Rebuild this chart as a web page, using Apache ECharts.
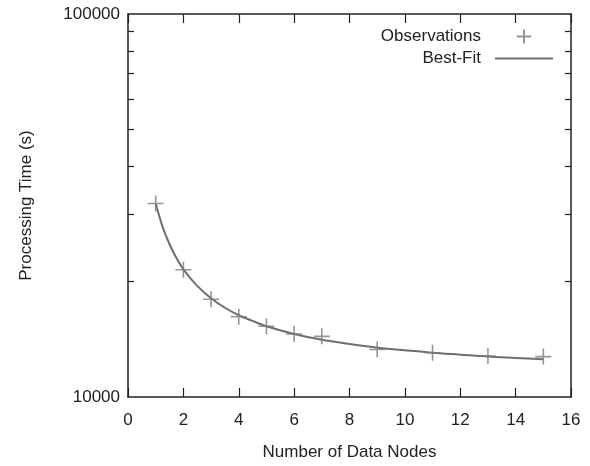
<!DOCTYPE html>
<html>
<head>
<meta charset="utf-8">
<script src="https://cdn.jsdelivr.net/npm/echarts@6/dist/echarts.min.js"></script>
<style>
  html, body { margin: 0; padding: 0; background: #fff; }
  #chart { width: 590px; height: 466px; }
</style>
</head>
<body>
<div id="chart"></div>
<script>
  // observed processing times
  var obsNodes = [1, 2, 3, 4, 5, 6, 7, 9, 11, 13, 15];
  var obsTime = [32000, 21500, 18000, 16200, 15300, 14600, 14400, 13300, 13050, 12800, 12750];

  // best-fit curve
  var fitNodes = [1, 1.25, 1.5, 1.75, 2, 2.5, 3, 3.5, 4, 4.5, 5, 6, 7, 8, 9, 10, 11, 12, 13, 14, 15];
  var fitTime = [32000, 27800, 25050, 23050, 21550, 19500, 18100, 17100, 16350, 15800, 15300, 14600,
                 14100, 13750, 13450, 13250, 13050, 12900, 12750, 12650, 12550];

  var yMinorTicks = [20000, 30000, 40000, 50000, 60000, 70000, 80000, 90000];
  var yLabels = [10000, 100000];

  var font = 'Liberation Sans';
  var ink = '#222';
  var grey = '#6e6e6e';
  var plusPath = 'path://M0,7L14,7M7,0L7,14';
  var barPath = 'path://M0,0H58V2H0Z';

  var chart = echarts.init(document.getElementById('chart'));

  function pairs(xs, ys) {
    var out = [];
    for (var i = 0; i < xs.length; i++) out.push([xs[i], ys[i]]);
    return out;
  }

  var frameLine = { show: true, onZero: false, lineStyle: { color: ink, width: 1.5 } };

  var yBase = {
    type: 'log',
    logBase: 10,
    min: 10000,
    max: 100000,
    splitLine: { show: false },
    axisLine: frameLine,
    axisTick: { show: true, inside: true, length: 6, customValues: yMinorTicks, lineStyle: { color: ink, width: 1.2 } },
    minorTick: { show: false }
  };

  var xBase = {
    type: 'value',
    min: 0,
    max: 16,
    interval: 2,
    splitLine: { show: false },
    axisLine: frameLine,
    axisTick: { show: true, inside: true, length: 9, lineStyle: { color: ink, width: 1.2 } }
  };

  chart.setOption({
    animation: false,
    textStyle: { fontFamily: font },
    grid: { left: 128, right: 19, top: 14, bottom: 69 },
    legend: {
      orient: 'vertical',
      align: 'right',
      right: 32,
      top: 23,
      itemWidth: 58,
      itemHeight: 14,
      itemGap: 5,
      textStyle: { fontFamily: font, fontSize: 17, color: ink, padding: [0, 9, 0, 0] },
      data: [
        { name: 'Observations', icon: plusPath },
        { name: 'Best-Fit', icon: barPath }
      ]
    },
    xAxis: [
      Object.assign({}, xBase, {
        name: 'Number of Data Nodes',
        nameLocation: 'middle',
        nameGap: 47,
        nameTextStyle: { fontSize: 17, color: ink },
        axisLabel: { fontSize: 17, color: ink, margin: 15 }
      }),
      Object.assign({}, xBase, {
        position: 'top',
        axisLabel: { show: false }
      })
    ],
    yAxis: [
      Object.assign({}, yBase, {
        name: 'Processing Time (s)',
        nameLocation: 'middle',
        nameGap: 93,
        nameTextStyle: { fontSize: 17, color: ink },
        axisLabel: {
          fontSize: 17, color: ink, margin: 8, customValues: yLabels,
          formatter: function (v) { return String(Math.round(v)); }
        }
      }),
      Object.assign({}, yBase, {
        position: 'right',
        axisLabel: { show: false }
      })
    ],
    series: [{
      name: 'Best-Fit',
      type: 'line',
      data: pairs(fitNodes, fitTime),
      smooth: 0.3,
      showSymbol: false,
      symbol: 'none',
      lineStyle: { color: grey, width: 2 },
      itemStyle: { color: grey },
      z: 2
    }, {
      name: 'Observations',
      type: 'scatter',
      data: pairs(obsNodes, obsTime),
      symbol: plusPath,
      symbolSize: 16,
      itemStyle: { color: grey, borderColor: '#7a7a7a', borderWidth: 1.6 },
      z: 3
    }]
  });
</script>
</body>
</html>
